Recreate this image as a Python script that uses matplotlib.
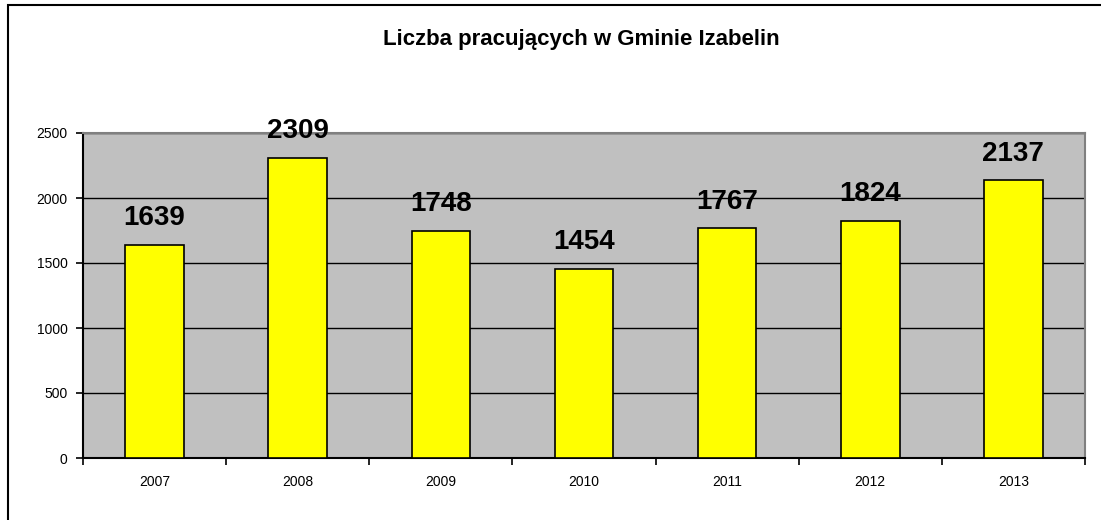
import numpy as np
import matplotlib.pyplot as plt
from matplotlib.patches import Rectangle

plt.rcParams['font.family'] = ['Liberation Sans', 'DejaVu Sans']

lata = ['2007', '2008', '2009', '2010', '2011', '2012', '2013']
pracujacy = [1639, 2309, 1748, 1454, 1767, 1824, 2137]
y_ticks = [0, 500, 1000, 1500, 2000, 2500]

fig = plt.figure(figsize=(11.01, 5.2), dpi=100)
ax = fig.add_axes([83/1101, 62/520, 1002/1101, 325/520])

# ramka wykresu (przycieta z prawej i z dolu)
fig.patches.append(Rectangle((8/1101, -0.2), 1.2, 1.2 - 5/520, transform=fig.transFigure,
                             fill=False, edgecolor='black', linewidth=1.5, clip_on=False))

x = np.arange(len(lata))
ax.set_facecolor('#C0C0C0')
ax.bar(x, pracujacy, width=0.41, color='#FFFF00', edgecolor='black', linewidth=1.2, zorder=3)
for xi, v in zip(x, pracujacy):
    ax.text(xi, v + 105, str(v), ha='center', va='bottom', fontsize=20, fontweight='bold', zorder=4)

ax.set_xlim(-0.5, len(lata) - 0.5)
ax.set_ylim(0, 2500)
ax.set_yticks(y_ticks)
ax.set_yticklabels([str(t) for t in y_ticks], fontsize=10)
ax.yaxis.grid(True, color='black', linewidth=1, zorder=1)
ax.set_axisbelow(True)

ax.set_xticks(x)
ax.set_xticklabels(lata, fontsize=10)
ax.set_xticks(np.arange(len(lata) + 1) - 0.5, minor=True)
ax.tick_params(axis='x', which='major', length=0, pad=12)
ax.tick_params(axis='x', which='minor', length=5, width=1.2, direction='out')
ax.tick_params(axis='y', length=5, width=1.2, pad=6)

ax.spines['left'].set_linewidth(1.5)
ax.spines['bottom'].set_linewidth(1.5)
ax.spines['top'].set_color('#808080')
ax.spines['right'].set_color('#808080')
ax.spines['top'].set_linewidth(1.5)
ax.spines['right'].set_linewidth(1.5)

fig.text(581/1101, 1 - 40/520, 'Liczba pracujących w Gminie Izabelin', ha='center', va='center',
         fontsize=16, fontweight='bold')

fig.savefig('out.png', dpi=100)
